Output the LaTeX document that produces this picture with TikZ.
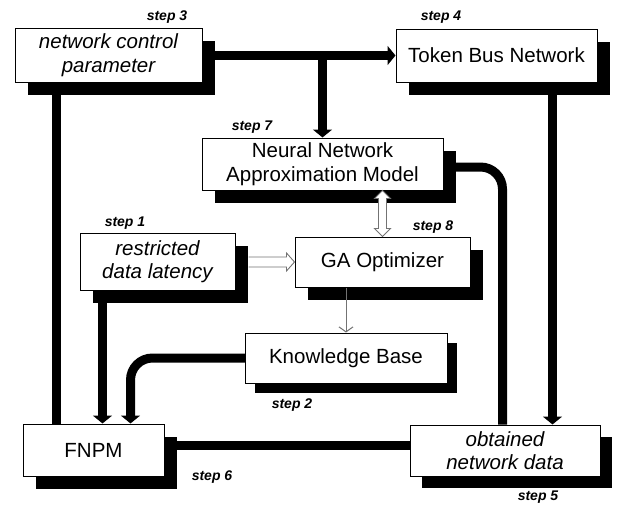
\documentclass[tikz,border=0pt]{standalone}
\usepackage{fontspec}
\setmainfont{Liberation Sans}
\usetikzlibrary{arrows.meta,shadows,backgrounds,calc}
\begin{document}
\begin{tikzpicture}[x=1pt,y=-1pt,
  box/.style={draw=black, line width=1pt, fill=white, inner sep=0pt, align=center,
    font=\fontsize{20.5}{23.5}\selectfont,
    general shadow={fill=black, shadow xshift=#1, shadow yshift=-#1}},
  box/.default=13pt,
  itbox/.style={box=#1, font=\fontsize{20.5}{23.5}\selectfont\itshape},
  itbox/.default=13pt,
  steplabel/.style={font=\fontsize{14}{16}\selectfont\bfseries\itshape, inner sep=0pt},
  flow/.style={line width=9pt, draw=black},
  flowarrow/.style={flow, -{Triangle[length=8pt,width=19pt]}},
  hollow/.style={draw=black!55, line width=0.9pt, fill=white, line join=miter},
  thinarrow/.style={draw=black!55, line width=1pt, -{Straight Barb[length=5pt,width=14pt]}}
]
\useasboundingbox (0,0) rectangle (622,506);

% blocks
\node[itbox, minimum width=187pt, minimum height=54pt] (ncp) at (108.5,55) {network control\\parameter};
\node[box, minimum width=201pt, minimum height=53pt] (tbn) at (496.5,55.5) {Token Bus Network};
\node[box, minimum width=241pt, minimum height=52pt] (nn) at (322.5,164) {Neural Network\\Approximation Model};
\node[itbox, minimum width=155pt, minimum height=57pt] (rdl) at (157.5,261.5) {restricted\\data latency};
\node[box, minimum width=175pt, minimum height=50pt] (ga) at (382.5,262) {GA Optimizer};
\node[box=10pt, minimum width=202pt, minimum height=50pt] (kb) at (346,358) {Knowledge Base};
\node[box, minimum width=141pt, minimum height=52pt] (fn) at (93.5,450) {FNPM};
\node[itbox=12pt, minimum width=190pt, minimum height=51pt] (ond) at (505,450.5) {obtained\\network data};

% step labels
\node[steplabel] (s3) at (167,17) {step 3};
\node[steplabel] (s4) at (441,17) {step 4};
\node[steplabel] (s7) at (252,127) {step 7};
\node[steplabel] (s1) at (125,223) {step 1};
\node[steplabel] (s8) at (433,227) {step 8};
\node[steplabel] (s2) at (292,405) {step 2};
\node[steplabel] (s6) at (212,477) {step 6};
\node[steplabel] (s5) at (538,497) {step 5};

% attachment points on the block borders
\coordinate (fa) at ([xshift=34pt]fn.north west);
\coordinate (fb) at ([xshift=80pt]fn.north west);
\coordinate (fc) at ([xshift=108pt]fn.north west);
\coordinate (fe) at ([yshift=5pt]fn.east);
\coordinate (oa) at ([xshift=93pt]ond.north west);
\coordinate (ob) at ([xshift=143pt]ond.north west);
\coordinate (nr) at ([yshift=-3pt]nn.center);

% thick data flow, kept behind the blocks and their shadows
\begin{scope}[on background layer]
  \draw[flowarrow] (ncp.center |- tbn.west) -- (tbn.west);
  \draw[flowarrow] (nn.north |- tbn.west) -- (nn.north);
  \draw[flow] (fa |- ncp.center) -- (fa);
  \draw[flowarrow] (fb |- rdl.center) -- (fb);
  \draw[flowarrow, rounded corners=22pt] (kb.center) -| (fc);
  \draw[flow] (fe) -- (fe -| ond.center);
  \draw[flowarrow] (ob |- tbn.center) -- (ob);
  \draw[flow, rounded corners=22pt] (nr) -| (oa);
\end{scope}

% hollow arrow: restricted data latency -> GA Optimizer
\coordinate (ra) at ([xshift=13pt]rdl.east |- ga.west);
\path[hollow] ([yshift=5pt]ra) -- ([xshift=-8pt,yshift=5pt]ga.west)
  -- ([xshift=-8pt,yshift=9pt]ga.west) -- (ga.west)
  -- ([xshift=-8pt,yshift=-9pt]ga.west) -- ([xshift=-8pt,yshift=-5pt]ga.west)
  -- ([yshift=-5pt]ra);

% hollow double arrow between the model and the optimizer
\coordinate (tt) at (ga.north |- nn.south);
\coordinate (bb) at (ga.north);
\path[hollow] (tt) -- ([xshift=8pt,yshift=-8pt]tt) -- ([xshift=4pt,yshift=-8pt]tt)
  -- ([xshift=4pt,yshift=8pt]bb) -- ([xshift=8pt,yshift=8pt]bb) -- (bb)
  -- ([xshift=-8pt,yshift=8pt]bb) -- ([xshift=-4pt,yshift=8pt]bb)
  -- ([xshift=-4pt,yshift=-8pt]tt) -- ([xshift=-8pt,yshift=-8pt]tt) -- cycle;

% thin arrow: GA Optimizer -> Knowledge Base
\draw[thinarrow] (kb.north |- ga.south) -- (kb.north);
\end{tikzpicture}
\end{document}
